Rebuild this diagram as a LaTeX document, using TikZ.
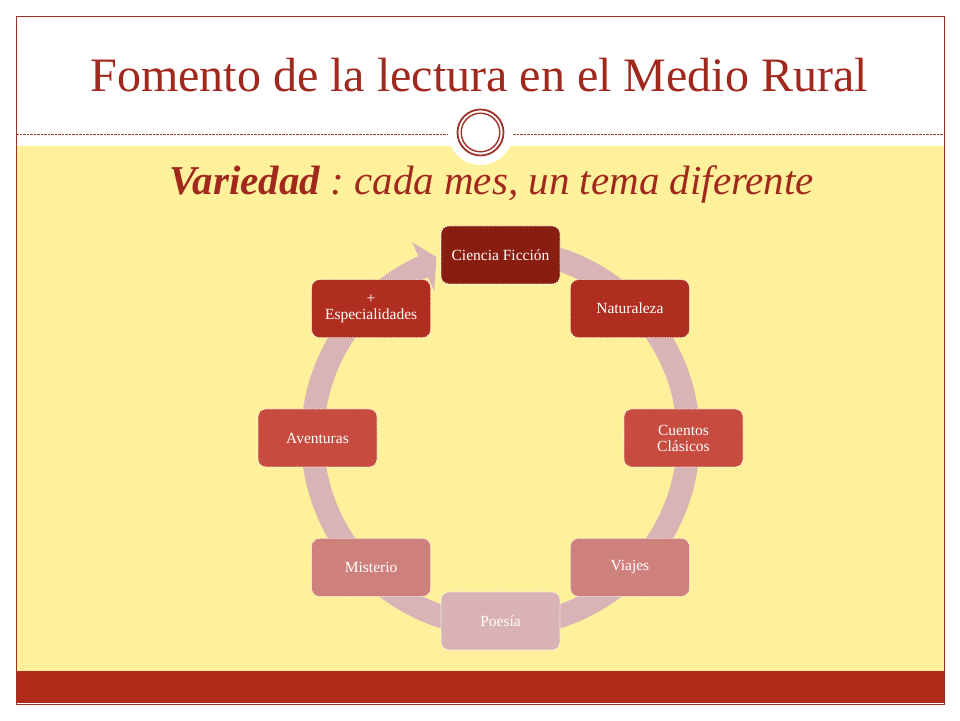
\documentclass[tikz,border=0pt]{standalone}
\usepackage{fontspec}
\setmainfont{Liberation Serif}
\usetikzlibrary{calc}
\definecolor{yellowbg}{RGB}{255,241,155}
\definecolor{titlecol}{RGB}{160,40,28}
\definecolor{framecol}{RGB}{158,50,40}
\definecolor{redband}{RGB}{176,44,24}
\definecolor{cA}{RGB}{137,29,16}
\definecolor{cB}{RGB}{176,46,32}
\definecolor{cC}{RGB}{200,75,64}
\definecolor{cD}{RGB}{206,128,124}
\definecolor{cE}{RGB}{217,179,179}
\definecolor{ringcol}{RGB}{216,180,182}
\tikzset{
  themebox/.style={rounded corners=8pt, minimum width=119pt, minimum height=58pt,
    draw=white, dash pattern=on 1.5pt off 1pt, line width=0.6pt, text=white,
    font=\fontsize{15.5}{16}\selectfont, align=center, inner sep=2pt},
}
\frenchspacing
\begin{document}
\begin{tikzpicture}[x=1pt,y=1pt]
\useasboundingbox (0,0) rectangle (960,720);
\fill[white] (0,0) rectangle (960,720);
\fill[yellowbg] (16,49) rectangle (944,574);
\fill[redband] (16,17) rectangle (944,49);
\draw[framecol, line width=0.8pt] (16,16) rectangle (944,704);
\draw[framecol, line width=0.7pt, dash pattern=on 2.5pt off 1pt] (16,586) -- (944,586);
\coordinate (O) at (480.5,587.5);
\fill[white] (O) circle (32.5);
\draw[framecol, line width=1.8pt] (O) circle (23);
\draw[framecol, line width=1.4pt] (O) circle (19.3);
\node[text=titlecol, font=\fontsize{48}{50}\selectfont] (title) at (479,645) {Fomento de la lectura en el Medio Rural};
\node[text=titlecol, font=\fontsize{41}{44}\selectfont\itshape] (sub) at (492,536) {\textbf{Variedad} : cada mes, un tema diferente};
\coordinate (C) at (500.5,282);
\fill[ringcol] ($(C)+(80:199.5)$) arc[start angle=80, end angle=-245.7, radius=199.5]
  -- ($(C)+(114.3:215)$) -- ($(C)+(109.5:192)$) -- ($(C)+(114.3:161)$)
  -- ($(C)+(114.3:176.5)$) arc[start angle=-245.7, end angle=80, radius=176.5] -- cycle;
\node[themebox, fill=cA] (n1) at ($(C)+(90:183)$) {Ciencia Ficción};
\node[themebox, fill=cB] (n2) at ($(C)+(45:183)$) {Naturaleza};
\node[themebox, fill=cC] (n3) at ($(C)+(0:183)$) {Cuentos\\Clásicos};
\node[themebox, fill=cD] (n4) at ($(C)+(-45:183)$) {Viajes};
\node[themebox, fill=cE] (n5) at ($(C)+(-90:183)$) {Poesía};
\node[themebox, fill=cD] (n6) at ($(C)+(-135:183)$) {Misterio};
\node[themebox, fill=cC] (n7) at ($(C)+(180:183)$) {Aventuras};
\node[themebox, fill=cB] (n8) at ($(C)+(135:183)$) {+\\Especialidades};
\end{tikzpicture}
\end{document}
